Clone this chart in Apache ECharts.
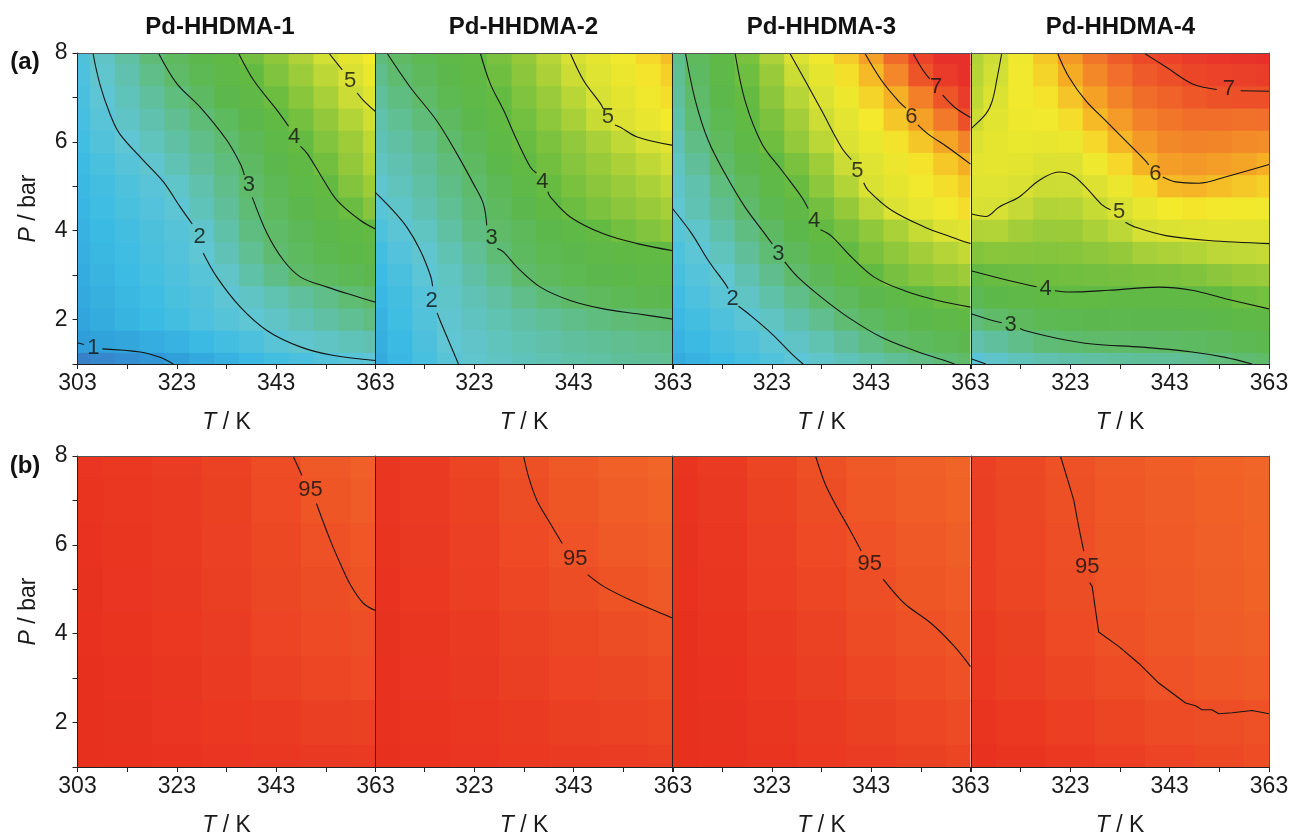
<!DOCTYPE html>
<html><head><meta charset="utf-8">
<script src="https://cdn.jsdelivr.net/npm/echarts@6/dist/echarts.min.js"></script>
<style>html,body{margin:0;padding:0;background:#fff}#c{width:1293px;height:834px}</style>
</head><body><div id="c"></div>
<script>
// ---------------- DATA ----------------
const panelTitles = ['Pd-HHDMA-1','Pd-HHDMA-2','Pd-HHDMA-3','Pd-HHDMA-4'];
const rowTags = ['(a)','(b)'];
const xTicks = [303,313,323,333,343,353,363];
const xLabelsFirst = [303,323,343,363];
const xLabelsOther = [323,343,363];
const yTicks = [1,2,3,4,5,6,7,8];
const yLabels = [2,4,6,8];

// (a) grid: T (K) columns, P (bar) rows from top (8) to bottom (1)
const T_GRID_A = [303,308,313,318,323,328,333,338,343,348,353,358,363];
const P_GRID_A = [8,7.5,7,6.5,6,5.5,5,4.5,4,3.5,3,2.5,2,1.5,1];
const a1 = [
 [1.77,2.14,2.52,2.9,3.23,3.54,3.85,4.14,4.42,4.69,4.97,5.25,5.5],
 [1.73,2.07,2.4,2.74,3.07,3.38,3.69,4.0,4.27,4.54,4.8,5.07,5.33],
 [1.69,1.97,2.26,2.56,2.85,3.16,3.48,3.8,4.1,4.36,4.63,4.9,5.15],
 [1.64,1.9,2.15,2.4,2.66,2.91,3.22,3.56,3.9,4.18,4.45,4.72,4.95],
 [1.58,1.8,2.0,2.25,2.5,2.74,2.99,3.33,3.68,4.03,4.3,4.55,4.8],
 [1.52,1.68,1.87,2.06,2.33,2.59,2.85,3.15,3.5,3.83,4.15,4.45,4.7],
 [1.45,1.6,1.75,1.9,2.12,2.42,2.73,3.03,3.35,3.67,3.99,4.3,4.55],
 [1.4,1.54,1.68,1.82,1.97,2.27,2.6,2.93,3.23,3.52,3.8,4.08,4.35],
 [1.35,1.48,1.61,1.74,1.87,2.1,2.45,2.8,3.08,3.33,3.55,3.77,3.98],
 [1.3,1.43,1.56,1.69,1.82,1.99,2.3,2.65,2.97,3.22,3.42,3.6,3.75],
 [1.24,1.37,1.5,1.63,1.76,1.89,2.13,2.45,2.76,3.03,3.2,3.35,3.48],
 [1.18,1.3,1.43,1.55,1.68,1.81,1.97,2.17,2.37,2.56,2.75,2.94,3.1],
 [1.12,1.24,1.36,1.48,1.61,1.73,1.86,1.99,2.15,2.32,2.5,2.65,2.8],
 [1.02,1.08,1.15,1.25,1.35,1.47,1.6,1.72,1.92,2.06,2.16,2.28,2.38],
 [0.6,0.7,0.8,0.9,1.03,1.18,1.32,1.45,1.58,1.7,1.8,1.88,1.95]
];
const a2 = [
 [2.87,3.14,3.4,3.67,3.94,4.21,4.48,4.76,5.04,5.25,5.45,5.65,5.85],
 [2.7,2.97,3.26,3.56,3.85,4.13,4.39,4.66,4.92,5.15,5.35,5.55,5.72],
 [2.55,2.8,3.08,3.4,3.71,4.02,4.27,4.52,4.77,5.02,5.22,5.42,5.6],
 [2.42,2.65,2.88,3.19,3.53,3.88,4.16,4.4,4.64,4.89,5.12,5.32,5.5],
 [2.3,2.5,2.72,3.0,3.36,3.73,4.05,4.25,4.44,4.63,4.83,5.02,5.2],
 [2.2,2.38,2.6,2.87,3.18,3.55,3.93,4.15,4.33,4.5,4.66,4.82,4.95],
 [2.05,2.25,2.5,2.76,3.0,3.35,3.7,4.04,4.22,4.38,4.52,4.65,4.78],
 [1.88,2.1,2.38,2.64,2.9,3.2,3.52,3.86,4.1,4.25,4.38,4.5,4.62],
 [1.75,1.93,2.2,2.5,2.8,3.08,3.3,3.54,3.78,4.01,4.16,4.3,4.42],
 [1.6,1.82,2.05,2.34,2.63,2.93,3.2,3.4,3.57,3.72,3.83,3.92,4.0],
 [1.5,1.7,1.94,2.2,2.48,2.75,3.01,3.25,3.4,3.52,3.62,3.7,3.77],
 [1.42,1.6,1.85,2.12,2.33,2.53,2.73,2.92,3.1,3.25,3.36,3.45,3.52],
 [1.35,1.55,1.8,2.06,2.22,2.37,2.5,2.62,2.73,2.82,2.9,2.96,3.0],
 [1.28,1.48,1.72,2.0,2.13,2.25,2.36,2.46,2.55,2.62,2.68,2.73,2.77],
 [1.2,1.42,1.65,1.92,2.07,2.18,2.28,2.37,2.45,2.52,2.58,2.62,2.65]
];
const a3 = [
 [2.74,3.24,3.74,4.22,4.67,5.09,5.42,5.75,6.13,6.65,7.15,7.5,7.8],
 [2.65,3.15,3.65,4.11,4.51,4.91,5.25,5.58,5.9,6.36,6.88,7.3,7.6],
 [2.55,3.05,3.55,4.03,4.39,4.74,5.08,5.38,5.68,5.98,6.43,6.88,7.25],
 [2.45,2.95,3.41,3.88,4.25,4.59,4.93,5.23,5.51,5.8,6.12,6.5,6.93],
 [2.3,2.78,3.25,3.73,4.13,4.46,4.78,5.08,5.33,5.56,5.8,6.08,6.4],
 [2.2,2.6,3.03,3.45,3.86,4.22,4.56,4.9,5.15,5.36,5.57,5.78,6.0],
 [2.1,2.42,2.84,3.24,3.65,4.05,4.4,4.72,5.05,5.25,5.43,5.6,5.76],
 [2.0,2.34,2.68,3.02,3.42,3.82,4.17,4.47,4.78,5.08,5.28,5.45,5.6],
 [1.88,2.1,2.45,2.8,3.16,3.56,3.97,4.2,4.43,4.65,4.88,5.08,5.22],
 [1.75,1.95,2.25,2.6,2.94,3.28,3.63,3.98,4.23,4.43,4.6,4.73,4.85],
 [1.65,1.85,2.04,2.38,2.7,3.01,3.33,3.66,3.99,4.2,4.34,4.45,4.55],
 [1.55,1.73,1.91,2.17,2.45,2.72,3.0,3.24,3.47,3.71,3.94,4.1,4.2],
 [1.45,1.6,1.76,1.93,2.18,2.43,2.69,2.95,3.18,3.38,3.55,3.7,3.83],
 [1.35,1.48,1.62,1.76,1.93,2.15,2.37,2.59,2.8,3.03,3.2,3.35,3.47],
 [1.22,1.34,1.48,1.62,1.78,1.94,2.12,2.28,2.45,2.62,2.78,2.93,3.08]
];
const a4 = [
 [4.7,4.93,5.4,5.78,6.2,6.52,6.8,7.0,7.15,7.3,7.4,7.45,7.5],
 [4.75,4.97,5.45,5.68,6.03,6.35,6.6,6.83,6.94,7.07,7.15,7.2,7.25],
 [4.82,5.1,5.45,5.57,5.82,6.12,6.4,6.63,6.73,6.85,6.92,6.93,6.94],
 [4.92,5.18,5.4,5.45,5.6,5.9,6.18,6.42,6.52,6.62,6.61,6.58,6.6],
 [5.1,5.25,5.33,5.3,5.35,5.65,5.93,6.2,6.35,6.4,6.38,6.32,6.3],
 [5.2,5.25,5.22,5.1,5.12,5.4,5.65,5.97,6.15,6.2,6.15,6.08,6.0],
 [5.15,5.15,5.06,4.92,4.93,5.12,5.35,5.63,5.9,5.94,5.87,5.78,5.72],
 [5.05,5.01,4.86,4.72,4.73,4.88,5.05,5.32,5.49,5.54,5.52,5.47,5.44],
 [4.7,4.72,4.6,4.52,4.53,4.65,4.8,5.0,5.1,5.14,5.16,5.16,5.16],
 [4.31,4.37,4.34,4.32,4.34,4.41,4.48,4.62,4.67,4.72,4.79,4.83,4.86],
 [3.92,4.05,4.09,4.12,4.15,4.17,4.19,4.23,4.24,4.29,4.39,4.47,4.52],
 [3.38,3.58,3.7,3.83,3.89,3.88,3.86,3.85,3.84,3.87,4.0,4.11,4.18],
 [2.87,3.07,3.24,3.37,3.44,3.47,3.46,3.47,3.47,3.52,3.62,3.74,3.81],
 [2.4,2.55,2.75,2.9,2.98,3.05,3.07,3.1,3.12,3.18,3.27,3.38,3.45],
 [1.9,2.1,2.28,2.4,2.47,2.53,2.56,2.6,2.62,2.7,2.85,2.96,3.05]
];

// (b) grid
const T_GRID_B = [303,313,323,333,343,353,363];
const P_GRID_B = [8,7,6,5,4,3,2,1];
const b1 = [
 [92.5,92.8,93.2,93.7,94.5,95.6,96.1],
 [92.4,92.7,93.1,93.6,94.3,95.3,95.8],
 [92.3,92.6,93.0,93.5,94.2,94.95,95.4],
 [92.2,92.5,92.9,93.4,94.1,94.6,95.1],
 [92.1,92.4,92.8,93.2,93.8,94.3,94.7],
 [92.0,92.3,92.6,93.0,93.5,94.0,94.3],
 [92.0,92.2,92.5,92.8,93.1,93.4,93.6],
 [92.0,92.1,92.3,92.5,92.7,92.9,93.0]
];
const b2 = [
 [92.6,93.1,93.9,94.8,95.6,96.2,96.6],
 [92.5,93.0,93.7,94.6,95.3,95.9,96.3],
 [92.4,92.9,93.5,94.3,95.0,95.5,95.9],
 [92.3,92.8,93.3,94.0,94.6,95.1,95.5],
 [92.2,92.6,93.1,93.7,94.2,94.6,94.9],
 [92.1,92.5,92.9,93.4,93.8,94.1,94.4],
 [92.1,92.4,92.7,93.1,93.4,93.7,93.9],
 [92.0,92.3,92.5,92.8,93.0,93.2,93.4]
];
const b3 = [
 [92.4,93.0,93.9,94.8,95.6,96.1,96.5],
 [92.3,92.9,93.7,94.6,95.4,95.9,96.3],
 [92.2,92.7,93.5,94.3,95.0,95.6,96.0],
 [92.1,92.6,93.3,94.0,94.7,95.3,95.7],
 [92.0,92.4,93.0,93.7,94.4,94.9,95.3],
 [92.0,92.3,92.8,93.4,94.0,94.5,94.9],
 [91.9,92.2,92.6,93.1,93.6,94.0,94.4],
 [91.9,92.1,92.4,92.8,93.2,93.6,93.9]
];
const b4 = [
 [93.5,94.2,94.9,95.5,95.9,96.3,96.6],
 [93.4,94.1,94.8,95.4,95.8,96.2,96.5],
 [93.3,94.0,94.7,95.3,95.7,96.1,96.4],
 [93.3,93.9,94.6,95.2,95.6,96.0,96.3],
 [93.1,93.6,94.3,94.9,95.4,95.8,96.1],
 [92.8,93.3,93.9,94.5,95.0,95.4,95.7],
 [92.4,92.8,93.3,93.9,94.4,94.7,94.9],
 [92.1,92.4,92.8,93.3,93.8,94.2,94.5]
];

// contour lines ([T, P]; null = gap where label sits)
const contA1 = [
 {v:'1', lab:[306.2,1.36], pts:[[303,1.48],[304.3,1.44],null,[308,1.34],[315.6,1.27],[319.6,1.15],[322.3,1.0]]},
 {v:'2', lab:[327.6,3.86], pts:[[306.1,8],[307.5,7.3],[309.5,6.64],[311.5,6.18],[316.3,5.58],[320.3,5.1],[323.7,4.53],[326.1,4.15],null,[328.3,3.5],[331.1,2.95],[335.8,2.28],[341.2,1.75],[348,1.38],[354.6,1.19],[363,1.08]]},
 {v:'3', lab:[337.5,5.02], pts:[[319.3,8],[323,7.31],[327.7,6.78],[333.1,6.03],[335.8,5.5],[336.6,5.25],null,[338.2,4.75],[341.2,3.93],[344.5,3.33],[348,2.95],[353.3,2.73],[358.6,2.54],[363,2.39]]},
 {v:'4', lab:[346.6,6.11], pts:[[335.4,8],[338.5,7.38],[343.2,6.71],[345.5,6.35],null,[347.9,5.9],[349.3,5.73],[352.6,5.13],[355.3,4.68],[360,4.23],[363,4.04]]},
 {v:'5', lab:[357.9,7.38], pts:[[353.6,8],[356.3,7.62],null,[359.3,7.1],[360.6,6.93],[363,6.68]]}
];
const contA2 = [
 {v:'2', lab:[314.4,2.43], pts:[[303,4.87],[306,4.53],[309.4,4.08],[312.1,3.56],[314.2,2.98],[314.6,2.75],null,[315.5,2.15],[316.1,1.98],[318.1,1.45],[319.8,1.0]]},
 {v:'3', lab:[326.5,3.84], pts:[[305.4,8],[310.1,7.23],[315.4,6.48],[319.5,5.73],[322.8,5.06],[324.8,4.61],[325.5,4.12],null,[327.6,3.6],[328.9,3.52],[331.6,3.18],[336.3,2.73],[342.3,2.43],[349,2.24],[355.8,2.13],[363,2.01]]},
 {v:'4', lab:[336.7,5.1], pts:[[324.2,8],[326.2,7.31],[328.9,6.71],[331.6,6.03],[334.3,5.43],[335.5,5.3],null,[337.8,4.88],[338.3,4.76],[342.3,4.31],[349,3.93],[355.8,3.71],[363,3.55]]},
 {v:'5', lab:[349.9,6.55], pts:[[342.3,8],[345,7.38],[348.4,6.86],[349,6.74],null,[351.3,6.38],[352.4,6.33],[355.8,6.11],[363,5.92]]}
];
const contA3 = [
 {v:'2', lab:[315.1,2.47], pts:[[303,4.5],[306.9,3.93],[310.2,3.33],[313.6,2.81],[314.2,2.7],null,[316.3,2.3],[318.3,2.13],[323,1.68],[327,1.23],[329.3,1.0]]},
 {v:'3', lab:[324.3,3.48], pts:[[305.6,8],[307.6,6.93],[310.2,6.03],[313.6,5.28],[317.6,4.53],[321.6,3.93],[323.1,3.7],null,[325.6,3.3],[328.3,2.95],[333,2.5],[338.4,2.05],[345.1,1.6],[351.8,1.3],[357.8,1.08],[359.8,1.0]]},
 {v:'4', lab:[331.5,4.23], pts:[[315.6,8],[317.6,6.93],[321,5.96],[325,5.36],[329,4.76],[330.3,4.5],null,[332.8,4.02],[335,3.88],[339,3.41],[343.7,2.95],[349.7,2.65],[356.4,2.43],[363,2.28]]},
 {v:'5', lab:[340.2,5.34], pts:[[326.6,8],[329.7,7.38],[333,6.71],[337,5.88],[339,5.6],null,[341.5,5.08],[342.4,4.91],[347.1,4.46],[353.8,4.08],[359.1,3.86],[363,3.71]]},
 {v:'6', lab:[351.1,6.56], pts:[[341.7,8],[345.1,7.38],[348.4,6.93],[350,6.76],null,[352.4,6.38],[354.4,6.18],[358.4,5.88],[363,5.5]]},
 {v:'7', lab:[356.1,7.23], pts:[[351.4,8],[353.5,7.6],[354.8,7.42],null,[357.4,7.05],[359.8,6.78],[363,6.55]]}
];
const contA4 = [
 {v:'', lab:null, pts:[[303,1.12],[306,1.0]]},
 {v:'3', lab:[311,1.87], pts:[[303,2.13],[307.3,1.98],[309.2,1.93],null,[312.9,1.8],[314,1.75],[320.7,1.57],[327.4,1.45],[337.5,1.38],[347.5,1.27],[354.2,1.15],[359.6,1.0]]},
 {v:'4', lab:[318,2.69], pts:[[303,3.1],[310.6,2.88],[316.2,2.74],null,[319.9,2.65],[322.7,2.62],[330.8,2.66],[340.8,2.73],[347.5,2.66],[354.2,2.47],[363,2.24]]},
 {v:'5', lab:[332.8,4.42], pts:[[303,4.38],[306,4.32],[308.6,4.53],[312.7,4.76],[316.7,5.13],[320.7,5.32],[323.4,5.25],[326.1,4.98],[329.4,4.58],[331.1,4.47],null,[334.1,4.19],[336.1,4.08],[342.2,3.89],[350.9,3.78],[363,3.71]]},
 {v:'', lab:null, pts:[[309.2,8],[308.3,7.46],[307.3,6.93],[306,6.63],[303,6.3]]},
 {v:'6', lab:[340.1,5.28], pts:[[320.4,8],[322.7,7.46],[326.1,6.93],[330.1,6.48],[334.1,6.03],[338.1,5.58],[338.8,5.48],null,[341.6,5.21],[344.2,5.1],[348.9,5.07],[354.2,5.21],[363,5.49]]},
 {v:'7', lab:[354.9,7.18], pts:[[337.8,8],[342.2,7.69],[347.5,7.31],[352.5,7.18],null,[357.3,7.15],[363,7.14]]}
];
const contB1 = [{v:'95', lab:[349.9,7.23], pts:[[346.4,8],[348.2,7.56],null,[351.1,6.93],[353.9,6.1],[355.9,5.58],[358,5.09],[360.6,4.68],[363,4.52]]}];
const contB2 = [{v:'95', lab:[343.3,5.69], pts:[[332.9,8],[334,7.5],[335.6,7.0],[338.3,6.48],[340.7,6.03],null,[345.8,5.33],[349.1,5.06],[354.4,4.76],[363,4.35]]}];
const contB3 = [{v:'95', lab:[342.7,5.58], pts:[[331.8,8],[333.7,7.38],[335.7,6.93],[338.4,6.4],[341,5.86],null,[345.4,5.23],[349.7,4.68],[355.1,4.23],[359.8,3.71],[363,3.26]]}];
const contB4 = [{v:'95', lab:[326.4,5.51], pts:[[321,8],[322.7,7.38],[323.7,7.0],[324.7,6.4],[325.7,5.86],null,[326.9,5.15],[327.4,5.06],[328.7,4.04],[332.8,3.71],[336.8,3.33],[340.8,2.89],[346.2,2.44],[348.2,2.38],[349.5,2.29],[351.5,2.29],[352.9,2.2],[355.6,2.22],[359.6,2.27],[363,2.2]]}];

// ---------------- STYLE / LAYOUT ----------------
const FONT = '"Liberation Sans", Arial, sans-serif';
const COLORS_A = ['#3a78c4','#2f9ed9','#3cbce4','#60c6d4','#60c0a4','#5fbb6c','#5cb84c','#62ba42','#98ca3a','#d6e034','#f4ea2c','#f6ae25','#f2782a','#ec4a28','#e8302a'];
const COLORS_B = ['#e8301f','#ea3a22','#ec4624','#ee5226','#f05e27','#f26a28'];
const LEFTS = [77.5, 375, 672.5, 971], W = 298, TOPS = [53, 456], H = 311;

const panels = [
 {vals:a1, T:T_GRID_A, P:P_GRID_A, cont:contA1, smooth:0.35},
 {vals:a2, T:T_GRID_A, P:P_GRID_A, cont:contA2, smooth:0.35},
 {vals:a3, T:T_GRID_A, P:P_GRID_A, cont:contA3, smooth:0.35},
 {vals:a4, T:T_GRID_A, P:P_GRID_A, cont:contA4, smooth:0.35},
 {vals:b1, T:T_GRID_B, P:P_GRID_B, cont:contB1, smooth:0.3},
 {vals:b2, T:T_GRID_B, P:P_GRID_B, cont:contB2, smooth:0.3},
 {vals:b3, T:T_GRID_B, P:P_GRID_B, cont:contB3, smooth:0.3},
 {vals:b4, T:T_GRID_B, P:P_GRID_B, cont:contB4, smooth:0}
];

function cellRenderer(dT, dP){
  return function(params, api){
    const t = api.value(0), p = api.value(1);
    const a = api.coord([t - dT/2, p + dP/2]);
    const b = api.coord([t + dT/2, p - dP/2]);
    const cs = params.coordSys;
    const x0 = Math.max(Math.min(a[0], b[0]), cs.x);
    const x1 = Math.min(Math.max(a[0], b[0]) + 0.8, cs.x + cs.width);
    const y0 = Math.max(Math.min(a[1], b[1]), cs.y);
    const y1 = Math.min(Math.max(a[1], b[1]) + 0.8, cs.y + cs.height);
    return {type:'rect', shape:{x:x0, y:y0, width:Math.max(0, x1 - x0), height:Math.max(0, y1 - y0)},
            style:{fill: api.visual('color')}};
  };
}

const grid = [], xAxis = [], yAxis = [], series = [], cellA = [], cellB = [], graphic = [];
const axisColor = '#222';
const nameRich = {i:{fontStyle:'italic', fontSize:23, fontFamily:FONT, color:'#1a1a1a'}};

for (let r = 0; r < 2; r++) {
  for (let c = 0; c < 4; c++) {
    const g = r * 4 + c;
    grid.push({left: LEFTS[c], top: TOPS[r], width: W, height: H, containLabel: false, outerBoundsMode: 'none'});
    xAxis.push({
      gridIndex: g, type: 'value', min: 303, max: 363, position: 'bottom', z: 10,
      axisLine: {show: true, onZero: false, lineStyle: {color: axisColor, width: 1}},
      axisTick: {show: true, length: 5, customValues: xTicks, lineStyle: {color: axisColor}},
      axisLabel: {customValues: c === 0 ? xLabelsFirst : xLabelsOther, fontSize: 23, color: '#1a1a1a', margin: 8, fontFamily: FONT},
      splitLine: {show: false},
      name: '{i|T} / K', nameLocation: 'middle', nameGap: 47,
      nameTextStyle: {fontSize: 23, color: '#1a1a1a', fontFamily: FONT, rich: nameRich}
    });
    xAxis.push({
      gridIndex: g, type: 'value', min: 303, max: 363, position: 'top', z: 10,
      axisLine: {show: true, onZero: false, lineStyle: {color: '#555', width: 1}},
      axisTick: {show: false}, axisLabel: {show: false}, splitLine: {show: false}
    });
    const y = {
      gridIndex: g, type: 'value', min: 1, max: 8, position: 'left', z: 10,
      axisLine: {show: true, onZero: false, lineStyle: {color: axisColor, width: 1}},
      axisTick: c === 0 ? {show: true, length: 5, customValues: yTicks, lineStyle: {color: axisColor}} : {show: false},
      axisLabel: c === 0 ? {customValues: yLabels, fontSize: 23, color: '#1a1a1a', margin: 10, fontFamily: FONT} : {show: false},
      splitLine: {show: false}
    };
    if (c === 0) {
      y.name = '{i|P} / bar'; y.nameLocation = 'middle'; y.nameGap = 37; y.nameRotate = 90;
      y.nameTextStyle = {fontSize: 23, color: '#1a1a1a', fontFamily: FONT, rich: nameRich};
    }
    yAxis.push(y);
  }
}
// right frame lines of the last panels
[3, 7].forEach(g => yAxis.push({
  gridIndex: g, type: 'value', min: 1, max: 8, position: 'right', z: 10,
  axisLine: {show: true, onZero: false, lineStyle: {color: '#555', width: 1}},
  axisTick: {show: false}, axisLabel: {show: false}, splitLine: {show: false}
}));

panels.forEach((pn, g) => {
  const data = [];
  pn.P.forEach((p, i) => pn.T.forEach((t, j) => data.push([t, p, pn.vals[i][j]])));
  const dT = pn.T[1] - pn.T[0], dP = pn.P[0] - pn.P[1];
  (g < 4 ? cellA : cellB).push(series.length);
  series.push({type: 'custom', xAxisIndex: 2 * g, yAxisIndex: g, data: data,
    encode: {x: 0, y: 1}, renderItem: cellRenderer(dT, dP), silent: true, z: 1});
  pn.cont.forEach(ct => {
    let seg = [];
    const flush = () => {
      if (seg.length > 1) series.push({type: 'line', xAxisIndex: 2 * g, yAxisIndex: g, data: seg,
        showSymbol: false, symbol: 'none', smooth: pn.smooth, clip: true, silent: true, z: 3,
        lineStyle: {color: '#151515', width: 1.1}});
      seg = [];
    };
    ct.pts.forEach(pt => { if (pt === null) flush(); else seg.push(pt); });
    flush();
    if (ct.lab) {
      series.push({type: 'scatter', xAxisIndex: 2 * g, yAxisIndex: g, data: [[ct.lab[0], ct.lab[1], ct.v]],
        symbolSize: 1, itemStyle: {color: 'rgba(0,0,0,0)'}, silent: true, z: 4,
        label: {show: true, position: 'inside', formatter: p => p.data[2], fontSize: 22, color: '#111', fontFamily: FONT}});
    }
  });
});

const titleX = [220, 523.5, 821.5, 1120.5];
panelTitles.forEach((t, i) => graphic.push({type: 'text', x: titleX[i], y: 27,
  style: {text: t, font: 'bold 24px ' + FONT, fill: '#111', textAlign: 'center', textVerticalAlign: 'middle'}}));
graphic.push({type: 'text', x: 25, y: 62, style: {text: rowTags[0], font: 'bold 24px ' + FONT, fill: '#111', textAlign: 'center', textVerticalAlign: 'middle'}});
graphic.push({type: 'text', x: 25, y: 466, style: {text: rowTags[1], font: 'bold 24px ' + FONT, fill: '#111', textAlign: 'center', textVerticalAlign: 'middle'}});

const chart = echarts.init(document.getElementById('c'), null, {renderer: 'canvas'});
chart.setOption({
  animation: false,
  backgroundColor: '#fff',
  grid, xAxis, yAxis, series, graphic,
  visualMap: [
    {type: 'continuous', show: false, min: 0.5, max: 7.5, dimension: 2, seriesIndex: cellA, inRange: {color: COLORS_A}},
    {type: 'continuous', show: false, min: 92, max: 97, dimension: 2, seriesIndex: cellB, inRange: {color: COLORS_B}}
  ]
});
</script></body></html>
